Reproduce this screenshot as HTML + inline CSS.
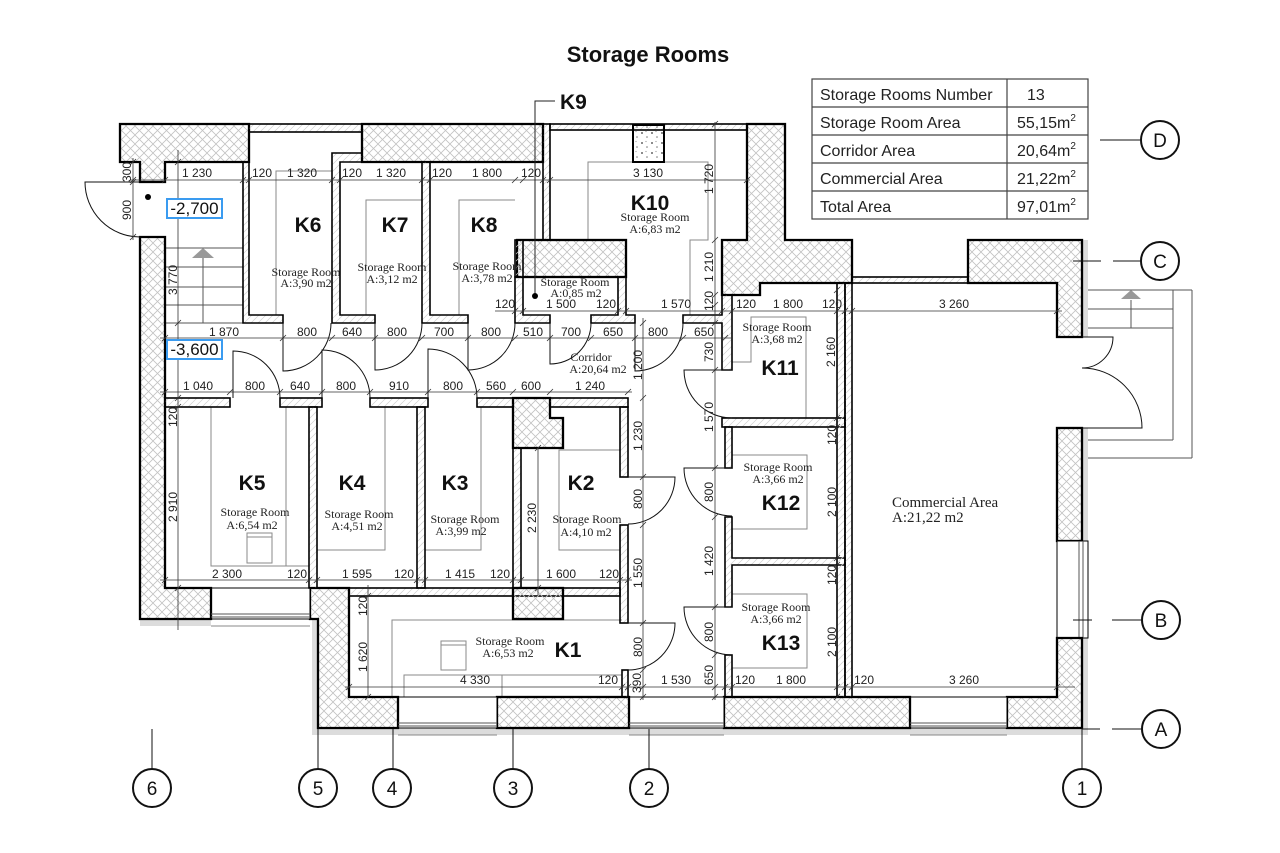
<!DOCTYPE html>
<html><head><meta charset="utf-8"><style>
html,body{margin:0;padding:0;background:#fff;}
svg{display:block}
.dm{font-family:"Liberation Sans",Arial,sans-serif;font-size:12px;fill:#222}
.kl{font-family:"Liberation Sans",Arial,sans-serif;font-size:21px;font-weight:bold;fill:#111}
.sr{font-family:"Liberation Serif",serif;font-size:12px;fill:#222}
.tb{font-family:"Liberation Sans",Arial,sans-serif;font-size:16px;fill:#222}
.ax{font-family:"Liberation Sans",Arial,sans-serif;font-size:19px;fill:#111}
.ex{fill:url(#h);stroke:#000;stroke-width:2.3}
.pt{fill:url(#p);stroke:#000;stroke-width:1.6}
.wn{fill:#fff;stroke:#000;stroke-width:1}
.ins{fill:#dcdcdc;stroke:none}
.g{fill:none;stroke:#8a8a8a;stroke-width:1}
.dr{fill:none;stroke:#111;stroke-width:1}
.dl{fill:none;stroke:#333;stroke-width:0.8}
</style></head><body>
<svg width="1280" height="853" viewBox="0 0 1280 853" xmlns="http://www.w3.org/2000/svg">
<defs>
<pattern id="h" width="9" height="9" patternUnits="userSpaceOnUse"><path d="M0,0L9,9M9,0L0,9" stroke="#c2c2c2" stroke-width="0.8"/></pattern>
<pattern id="p" width="7" height="7" patternUnits="userSpaceOnUse"><path d="M0,7L7,0M-1,1L1,-1M6,8L8,6" stroke="#d0d0d0" stroke-width="0.7"/></pattern>
<pattern id="d" width="10" height="10" patternUnits="userSpaceOnUse"><circle cx="2" cy="3" r="1" fill="#666"/><circle cx="7" cy="7" r="0.8" fill="#777"/><circle cx="6" cy="1.5" r="0.6" fill="#999"/></pattern>
</defs>

<!-- Title -->
<text x="648" y="62" text-anchor="middle" style="font-family:'Liberation Sans',Arial,sans-serif;font-size:22px;font-weight:bold" fill="#111">Storage Rooms</text>

<!-- Table -->
<g stroke="#444" stroke-width="1.2" fill="none">
<rect x="812" y="79" width="276" height="140"/>
<line x1="812" y1="107" x2="1088" y2="107"/><line x1="812" y1="135" x2="1088" y2="135"/>
<line x1="812" y1="163" x2="1088" y2="163"/><line x1="812" y1="191" x2="1088" y2="191"/>
<line x1="1007" y1="79" x2="1007" y2="219"/>
</g>
<text class="tb" x="820" y="100">Storage Rooms Number</text><text class="tb" x="1027" y="100">13</text>
<text class="tb" x="820" y="128">Storage Room Area</text><text class="tb" x="1017" y="128">55,15m<tspan font-size="10" dy="-7">2</tspan></text>
<text class="tb" x="820" y="156">Corridor Area</text><text class="tb" x="1017" y="156">20,64m<tspan font-size="10" dy="-7">2</tspan></text>
<text class="tb" x="820" y="184">Commercial Area</text><text class="tb" x="1017" y="184">21,22m<tspan font-size="10" dy="-7">2</tspan></text>
<text class="tb" x="820" y="212">Total Area</text><text class="tb" x="1017" y="212">97,01m<tspan font-size="10" dy="-7">2</tspan></text>

<!-- insulation strips -->
<rect class="ins" x="140" y="619" width="71" height="7"/>
<rect class="ins" x="312" y="619" width="6" height="116"/>
<rect class="ins" x="312" y="728" width="776" height="7"/>
<rect class="ins" x="1082" y="240" width="6" height="97"/>
<rect class="ins" x="1082" y="428" width="6" height="113"/>
<rect class="ins" x="1082" y="638" width="6" height="97"/>
<g stroke="#888" stroke-width="1"><line x1="211" y1="626" x2="310" y2="626"/><line x1="398" y1="735" x2="497" y2="735"/><line x1="629" y1="735" x2="724" y2="735"/><line x1="910" y1="735" x2="1007" y2="735"/></g>

<!-- gray inner outlines -->
<g class="g">
<polyline points="276,315 276,171 332,171"/>
<polyline points="366,315 366,200 422,200"/>
<polyline points="459,315 459,200 515,200"/>
<polyline points="588,240 588,162 708,162 708,240 690,240 690,315"/>
<polyline points="732,362 751,362 751,317 806,317 806,418"/>
<polyline points="732,455 807,455 807,529 732,529"/>
<polyline points="732,594 807,594 807,668 732,668"/>
<polyline points="211,407 211,566 309,566"/><line x1="286" y1="407" x2="286" y2="566"/>
<rect x="247" y="533" width="25" height="30"/><line x1="247" y1="537" x2="272" y2="537"/>
<polyline points="317,550 385,550 385,407"/>
<polyline points="425,550 481,550 481,407"/>
<polyline points="620,450 559,450 559,550 620,550"/>
<polyline points="622,620 392,620 392,697"/>
<rect x="441" y="641" width="25" height="29"/><line x1="441" y1="645" x2="466" y2="645"/>
<polyline points="404,697 404,675 622,675"/><line x1="502" y1="675" x2="502" y2="697"/>
</g>

<!-- stairs left -->
<g stroke="#555" stroke-width="1">
<line x1="165" y1="248" x2="243" y2="248"/><line x1="165" y1="267" x2="243" y2="267"/>
<line x1="165" y1="287" x2="243" y2="287"/><line x1="165" y1="305" x2="243" y2="305"/>
<line x1="165" y1="323" x2="243" y2="323"/>
<line x1="203" y1="323" x2="203" y2="257"/>
</g>
<polygon points="192,258 214,258 203,248" fill="#999"/>

<!-- stairs right -->
<g stroke="#555" stroke-width="1" fill="none">
<line x1="1088" y1="290" x2="1192" y2="290"/><line x1="1088" y1="309" x2="1173" y2="309"/>
<line x1="1088" y1="328" x2="1173" y2="328"/><line x1="1088" y1="440" x2="1173" y2="440"/>
<line x1="1088" y1="458" x2="1192" y2="458"/><line x1="1173" y1="290" x2="1173" y2="440"/>
<line x1="1192" y1="290" x2="1192" y2="458"/><line x1="1131" y1="328" x2="1131" y2="300"/>
</g>
<polygon points="1121,299 1141,299 1131,290" fill="#999"/>

<!-- exterior walls -->
<path class="ex" d="M120,124H249V162H165V182H140V162H120Z"/>
<rect class="pt" x="249" y="124" width="113" height="8"/>
<path class="ex" d="M362,124H543V162H362Z"/>
<rect class="pt" x="543" y="124" width="7" height="116"/>
<rect class="pt" x="550" y="124" width="197" height="6"/>
<rect x="633" y="125" width="31" height="37" fill="url(#d)" stroke="#000" stroke-width="2"/>
<path class="ex" d="M747,124H785V240H852V283H760V295H722V240H747Z"/>
<rect class="pt" x="852" y="277" width="116" height="6"/>
<path class="ex" d="M968,240H1082V337H1057V283H968Z"/>
<rect class="ex" x="1057" y="428" width="25" height="113"/>
<rect class="wn" x="1057" y="541" width="31" height="97"/>
<g stroke="#555" stroke-width="1"><line x1="1079" y1="541" x2="1079" y2="638"/><line x1="1083" y1="541" x2="1083" y2="638"/></g>
<path class="ex" d="M1057,638H1082V728H1007V697H1057Z"/>
<rect class="wn" x="910" y="697" width="97" height="31"/>
<rect class="ex" x="724" y="697" width="186" height="31"/>
<rect class="wn" x="629" y="697" width="95" height="31"/>
<rect class="ex" x="497" y="697" width="132" height="31"/>
<rect class="wn" x="398" y="697" width="99" height="31"/>
<path class="ex" d="M310,588H349V697H398V728H318V619H310Z"/>
<rect class="wn" x="211" y="588" width="99" height="31"/>
<path class="ex" d="M140,237H165V588H211V619H140Z"/>
<g stroke="#555" stroke-width="1">
<line x1="398" y1="723" x2="497" y2="723"/><line x1="398" y1="726" x2="497" y2="726"/>
<line x1="629" y1="723" x2="724" y2="723"/><line x1="629" y1="726" x2="724" y2="726"/>
<line x1="910" y1="723" x2="1007" y2="723"/><line x1="910" y1="726" x2="1007" y2="726"/>
<line x1="211" y1="614" x2="310" y2="614"/><line x1="211" y1="617" x2="310" y2="617"/>
</g>

<!-- hatched interior blocks -->
<rect class="ex" x="517" y="240" width="109" height="37"/>
<path class="ex" d="M513,398H550V418H563V448H513Z"/>

<!-- partitions -->
<path class="pt" d="M243,162H249V315H283V323H243Z"/>
<path class="pt" d="M332,153H362V162H340V315H375V323H332Z"/>
<path class="pt" d="M422,162H430V315H468V323H422Z"/>
<path class="pt" d="M515,277H523V315H550V323H515Z"/>
<rect class="pt" x="515" y="240" width="8" height="37"/>
<path class="pt" d="M618,277H626V315H635V323H591V315H618Z"/>
<path class="pt" d="M683,315H722V295H732V370H722V323H683Z"/>
<rect class="pt" x="722" y="418" width="123" height="9"/>
<rect class="pt" x="725" y="427" width="7" height="41"/>
<path class="pt" d="M725,517H732V558H845V565H732V607H725Z"/>
<rect class="pt" x="725" y="655" width="7" height="42"/>
<rect class="pt" x="837" y="283" width="8" height="414"/>
<rect class="pt" x="845" y="283" width="7" height="414"/>
<rect class="pt" x="165" y="398" width="65" height="9"/>
<rect class="pt" x="280" y="398" width="42" height="9"/>
<rect class="pt" x="370" y="398" width="58" height="9"/>
<rect class="pt" x="477" y="398" width="36" height="9"/>
<rect class="pt" x="309" y="407" width="8" height="181"/>
<rect class="pt" x="417" y="407" width="8" height="181"/>
<rect class="pt" x="513" y="448" width="8" height="140"/>
<rect class="pt" x="550" y="398" width="78" height="9"/>
<rect class="pt" x="620" y="407" width="8" height="70"/>
<rect class="pt" x="620" y="525" width="8" height="98"/>
<rect class="pt" x="349" y="588" width="271" height="8"/>
<rect class="pt" x="622" y="670" width="6" height="27"/>
<rect class="ex" x="513" y="588" width="50" height="31"/>

<!-- doors -->
<g class="dr">
<path d="M283,323V371A48,48 0 0 0 331,323"/>
<path d="M375,323V370A47,47 0 0 0 422,323"/>
<path d="M468,323V370A47,47 0 0 0 515,323"/>
<path d="M550,323V364A41,41 0 0 0 591,323"/>
<path d="M635,323V371A48,48 0 0 0 683,323"/>
<path d="M732,370H684A48,48 0 0 0 732,418"/>
<path d="M732,468H684A48,48 0 0 0 732,516"/>
<path d="M732,607H684A48,48 0 0 0 732,655"/>
<path d="M628,477H675A47,47 0 0 1 628,524"/>
<path d="M628,623H675A47,47 0 0 1 628,670"/>
<path d="M233,398V351A47,47 0 0 1 280,398"/>
<path d="M322,398V350A48,48 0 0 1 370,398"/>
<path d="M428,398V349A49,49 0 0 1 477,398"/>
<path d="M140,182H85A55,55 0 0 0 140,237"/>
<path d="M1082,337H1113A31,31 0 0 1 1082,368"/>
<path d="M1082,428H1142A60,60 0 0 0 1082,368"/>
</g>

<!-- dimension lines -->
<g class="dl">
<line x1="130" y1="180" x2="750" y2="180"/>
<line x1="133" y1="158" x2="133" y2="240"/>
<line x1="178" y1="150" x2="178" y2="630"/>
<line x1="160" y1="338" x2="732" y2="338"/>
<line x1="160" y1="392" x2="632" y2="392"/>
<line x1="495" y1="311" x2="1062" y2="311"/>
<line x1="160" y1="580" x2="632" y2="580"/>
<line x1="345" y1="687" x2="1075" y2="687"/>
<line x1="643" y1="318" x2="643" y2="700"/>
<line x1="715" y1="122" x2="715" y2="700"/>
<line x1="538" y1="448" x2="538" y2="595"/>
<line x1="368" y1="585" x2="368" y2="697"/>
<path d="M130,183l6,-6M162,183l6,-6M240,183l6,-6M246,183l6,-6M329,183l6,-6M337,183l6,-6M419,183l6,-6M427,183l6,-6M512,183l6,-6M520,183l6,-6M540,183l6,-6M547,183l6,-6M744,183l6,-6
M130,165l6,-6M130,185l6,-6M130,240l6,-6
M175,165l6,-6M175,326l6,-6M175,401l6,-6M175,410l6,-6M175,591l6,-6
M162,341l6,-6M280,341l6,-6M329,341l6,-6M372,341l6,-6M419,341l6,-6M465,341l6,-6M512,341l6,-6M547,341l6,-6M588,341l6,-6M632,341l6,-6M680,341l6,-6M722,341l6,-6
M162,395l6,-6M227,395l6,-6M277,395l6,-6M319,395l6,-6M367,395l6,-6M425,395l6,-6M474,395l6,-6M510,395l6,-6M547,395l6,-6M625,395l6,-6
M512,314l6,-6M520,314l6,-6M615,314l6,-6M623,314l6,-6M719,314l6,-6M729,314l6,-6M834,314l6,-6M842,314l6,-6M849,314l6,-6M1054,314l6,-6
M162,583l6,-6M306,583l6,-6M314,583l6,-6M414,583l6,-6M422,583l6,-6M510,583l6,-6M518,583l6,-6M617,583l6,-6M625,583l6,-6
M346,690l6,-6M619,690l6,-6M625,690l6,-6M640,690l6,-6M712,690l6,-6M722,690l6,-6M729,690l6,-6M834,690l6,-6M842,690l6,-6M849,690l6,-6M1054,690l6,-6
M640,326l6,-6M640,401l6,-6M640,480l6,-6M640,528l6,-6M640,626l6,-6M640,673l6,-6M640,700l6,-6
M712,127l6,-6M712,243l6,-6M712,298l6,-6M712,308l6,-6M712,326l6,-6M712,373l6,-6M712,471l6,-6M712,520l6,-6M712,610l6,-6M712,658l6,-6M712,700l6,-6
M834,293l6,-6M834,421l6,-6M834,430l6,-6M834,561l6,-6M834,568l6,-6M834,700l6,-6
M535,451l6,-6M535,591l6,-6M365,599l6,-6M365,700l6,-6"/>
</g>

<!-- horizontal dimension text -->
<g class="dm" text-anchor="middle">
<text x="197" y="177">1 230</text><text x="262" y="177">120</text><text x="302" y="177">1 320</text><text x="352" y="177">120</text><text x="391" y="177">1 320</text><text x="442" y="177">120</text><text x="487" y="177">1 800</text><text x="531" y="177">120</text><text x="648" y="177">3 130</text>
<text x="224" y="336">1 870</text><text x="307" y="336">800</text><text x="352" y="336">640</text><text x="397" y="336">800</text><text x="444" y="336">700</text><text x="491" y="336">800</text><text x="533" y="336">510</text><text x="571" y="336">700</text><text x="613" y="336">650</text><text x="658" y="336">800</text><text x="704" y="336">650</text>
<text x="198" y="390">1 040</text><text x="255" y="390">800</text><text x="300" y="390">640</text><text x="346" y="390">800</text><text x="399" y="390">910</text><text x="453" y="390">800</text><text x="496" y="390">560</text><text x="531" y="390">600</text><text x="590" y="390">1 240</text>
<text x="505" y="308">120</text><text x="561" y="308">1 500</text><text x="606" y="308">120</text><text x="676" y="308">1 570</text><text x="746" y="308">120</text><text x="788" y="308">1 800</text><text x="832" y="308">120</text><text x="954" y="308">3 260</text>
<text x="227" y="578">2 300</text><text x="297" y="578">120</text><text x="357" y="578">1 595</text><text x="404" y="578">120</text><text x="460" y="578">1 415</text><text x="500" y="578">120</text><text x="561" y="578">1 600</text><text x="609" y="578">120</text>
<text x="475" y="684">4 330</text><text x="608" y="684">120</text><text x="676" y="684">1 530</text><text x="745" y="684">120</text><text x="791" y="684">1 800</text><text x="864" y="684">120</text><text x="964" y="684">3 260</text>
</g>

<!-- vertical dimension text -->
<g class="dm" text-anchor="middle" dominant-baseline="central">
<text transform="translate(127,172) rotate(-90)">300</text>
<text transform="translate(127,210) rotate(-90)">900</text>
<text transform="translate(173,280) rotate(-90)">3 770</text>
<text transform="translate(173,417) rotate(-90)">120</text>
<text transform="translate(173,507) rotate(-90)">2 910</text>
<text transform="translate(638,365) rotate(-90)">1 200</text>
<text transform="translate(638,436) rotate(-90)">1 230</text>
<text transform="translate(638,499) rotate(-90)">800</text>
<text transform="translate(638,573) rotate(-90)">1 550</text>
<text transform="translate(638,647) rotate(-90)">800</text>
<text transform="translate(637,683) rotate(-90)">390</text>
<text transform="translate(709,179) rotate(-90)">1 720</text>
<text transform="translate(709,267) rotate(-90)">1 210</text>
<text transform="translate(709,301) rotate(-90)">120</text>
<text transform="translate(709,352) rotate(-90)">730</text>
<text transform="translate(709,417) rotate(-90)">1 570</text>
<text transform="translate(709,492) rotate(-90)">800</text>
<text transform="translate(709,561) rotate(-90)">1 420</text>
<text transform="translate(709,632) rotate(-90)">800</text>
<text transform="translate(709,675) rotate(-90)">650</text>
<text transform="translate(831,352) rotate(-90)">2 160</text>
<text transform="translate(832,435) rotate(-90)">120</text>
<text transform="translate(832,502) rotate(-90)">2 100</text>
<text transform="translate(832,575) rotate(-90)">120</text>
<text transform="translate(832,642) rotate(-90)">2 100</text>
<text transform="translate(532,518) rotate(-90)">2 230</text>
<text transform="translate(363,606) rotate(-90)">120</text>
<text transform="translate(363,657) rotate(-90)">1 620</text>
</g>

<!-- level labels -->
<rect x="167" y="199" width="55" height="19" fill="#fff" stroke="#3a9bf0" stroke-width="2"/>
<text x="194.5" y="214" text-anchor="middle" style="font-family:'Liberation Sans',Arial,sans-serif;font-size:17px" fill="#111">-2,700</text>
<rect x="167" y="340" width="55" height="19" fill="#fff" stroke="#3a9bf0" stroke-width="2"/>
<text x="194.5" y="355" text-anchor="middle" style="font-family:'Liberation Sans',Arial,sans-serif;font-size:17px" fill="#111">-3,600</text>
<circle cx="148" cy="197" r="3" fill="#000"/>

<!-- K9 leader -->
<path d="M555,101H535V296" fill="none" stroke="#222" stroke-width="1"/>
<circle cx="535" cy="296" r="3" fill="#000"/>
<text class="kl" x="560" y="109">K9</text>

<!-- room labels -->
<g text-anchor="middle">
<text class="kl" x="308" y="232">K6</text><text class="sr" x="306" y="276">Storage Room</text><text class="sr" x="306" y="287">A:3,90 m2</text>
<text class="kl" x="395" y="232">K7</text><text class="sr" x="392" y="271">Storage Room</text><text class="sr" x="392" y="283">A:3,12 m2</text>
<text class="kl" x="484" y="232">K8</text><text class="sr" x="487" y="270">Storage Room</text><text class="sr" x="487" y="282">A:3,78 m2</text>
<text class="sr" x="575" y="286">Storage Room</text><text class="sr" x="576" y="297">A:0,85 m2</text>
<text class="kl" x="650" y="210">K10</text><text class="sr" x="655" y="221">Storage Room</text><text class="sr" x="655" y="233">A:6,83 m2</text>
<text class="sr" x="591" y="361">Corridor</text><text class="sr" x="598" y="373">A:20,64 m2</text>
<text class="kl" x="780" y="375">K11</text><text class="sr" x="777" y="331">Storage Room</text><text class="sr" x="777" y="343">A:3,68 m2</text>
<text class="kl" x="781" y="510">K12</text><text class="sr" x="778" y="471">Storage Room</text><text class="sr" x="778" y="483">A:3,66 m2</text>
<text class="kl" x="781" y="650">K13</text><text class="sr" x="776" y="611">Storage Room</text><text class="sr" x="776" y="623">A:3,66 m2</text>
<text class="kl" x="252" y="490">K5</text><text class="sr" x="255" y="516">Storage Room</text><text class="sr" x="252" y="529">A:6,54 m2</text>
<text class="kl" x="352" y="490">K4</text><text class="sr" x="359" y="518">Storage Room</text><text class="sr" x="357" y="530">A:4,51 m2</text>
<text class="kl" x="455" y="490">K3</text><text class="sr" x="465" y="523">Storage Room</text><text class="sr" x="461" y="535">A:3,99 m2</text>
<text class="kl" x="581" y="490">K2</text><text class="sr" x="587" y="523">Storage Room</text><text class="sr" x="586" y="536">A:4,10 m2</text>
<text class="kl" x="568" y="657">K1</text><text class="sr" x="510" y="645">Storage Room</text><text class="sr" x="508" y="657">A:6,53 m2</text>
</g>
<text x="892" y="507" style="font-family:'Liberation Serif',serif;font-size:15px" fill="#222">Commercial Area</text>
<text x="892" y="522" style="font-family:'Liberation Serif',serif;font-size:15px" fill="#222">A:21,22 m2</text>

<!-- axis markers -->
<g stroke="#111" stroke-width="1" fill="none">
<line x1="1100" y1="140" x2="1140" y2="140"/>
<line x1="1073" y1="261" x2="1101" y2="261"/><line x1="1113" y1="261" x2="1140" y2="261"/>
<line x1="1073" y1="620" x2="1092" y2="620"/><line x1="1112" y1="620" x2="1141" y2="620"/>
<line x1="1082" y1="729" x2="1100" y2="729"/><line x1="1112" y1="729" x2="1141" y2="729"/>
<line x1="1082" y1="728" x2="1082" y2="769"/>
<line x1="649" y1="729" x2="649" y2="769"/>
<line x1="513" y1="729" x2="513" y2="769"/>
<line x1="393" y1="729" x2="393" y2="769"/>
<line x1="318" y1="729" x2="318" y2="769"/>
<line x1="152" y1="729" x2="152" y2="769"/>
</g>
<g stroke="#111" stroke-width="2" fill="#fff">
<circle cx="1160" cy="140" r="19"/><circle cx="1160" cy="261" r="19"/>
<circle cx="1161" cy="620" r="19"/><circle cx="1161" cy="729" r="19"/>
<circle cx="1082" cy="788" r="19"/><circle cx="649" cy="788" r="19"/>
<circle cx="513" cy="788" r="19"/><circle cx="392" cy="788" r="19"/>
<circle cx="318" cy="788" r="19"/><circle cx="152" cy="788" r="19"/>
</g>
<g class="ax" text-anchor="middle">
<text x="1160" y="147">D</text><text x="1160" y="268">C</text>
<text x="1161" y="627">B</text><text x="1161" y="736">A</text>
<text x="1082" y="795">1</text><text x="649" y="795">2</text>
<text x="513" y="795">3</text><text x="392" y="795">4</text>
<text x="318" y="795">5</text><text x="152" y="795">6</text>
</g>
</svg>
</body></html>
